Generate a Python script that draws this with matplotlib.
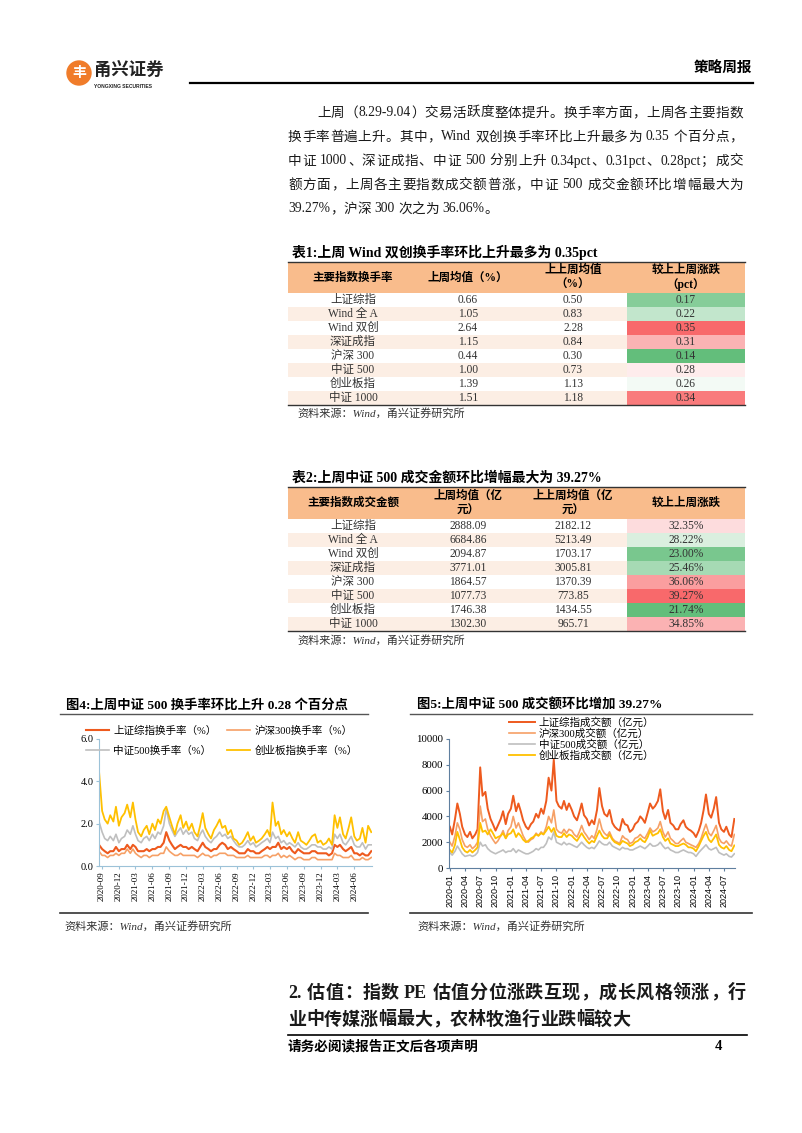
import re
import numpy as np
import pandas as pd
import matplotlib
matplotlib.use('Agg')
import matplotlib.pyplot as plt
from matplotlib.patches import Rectangle, Circle
from matplotlib.colors import LinearSegmentedColormap, TwoSlopeNorm

# ---- 数据 ----
para = [
    '上周（8.29-9.04）交易活跃度整体提升。换手率方面，上周各主要指数',
    '换手率普遍上升。其中，Wind 双创换手率环比上升最多为 0.35 个百分点，',
    '中证 1000、深证成指、中证 500 分别上升 0.34pct、0.31pct、0.28pct；成交',
    '额方面，上周各主要指数成交额普涨，中证 500 成交金额环比增幅最大为',
    '39.27%，沪深 300 次之为 36.06%。',
]

idx_names = ['上证综指', 'Wind 全 A', 'Wind 双创', '深证成指', '沪深 300', '中证 500', '创业板指', '中证 1000']
turn_last = [0.66, 1.05, 2.64, 1.15, 0.44, 1.00, 1.39, 1.51]
turn_prev = [0.50, 0.83, 2.28, 0.84, 0.30, 0.73, 1.13, 1.18]
turn_chg = [0.17, 0.22, 0.35, 0.31, 0.14, 0.28, 0.26, 0.34]

amt_last = [2888.09, 6684.86, 2094.87, 3771.01, 1864.57, 1077.73, 1746.38, 1302.30]
amt_prev = [2182.12, 5213.49, 1703.17, 3005.81, 1370.39, 773.85, 1434.55, 965.71]
amt_chg = [32.35, 28.22, 23.00, 25.46, 36.06, 39.27, 21.74, 34.85]

# 图4 换手率(%)，半月采样
dates4 = pd.date_range('2020-08-15', periods=98, freq='SMS')
to_sh = [1.0, 0.8, 0.7, 0.6, 0.7, 0.7, 0.9, 0.7, 0.8,
         0.8, 1.0, 0.8, 1.0, 0.9, 0.7, 0.7, 0.7, 0.8, 0.7, 0.8, 0.8,
         0.9, 0.9, 1.1, 1.6, 1.2, 1.0, 0.8, 0.9, 1.0, 0.9, 0.9, 0.8,
         0.9, 0.8, 0.7, 0.9, 1.1, 0.9, 0.8, 0.7, 0.8, 0.8, 1.0, 1.1,
         1.0, 0.8, 0.9, 0.8, 0.7, 0.6, 0.6, 0.6, 0.8, 0.7, 0.7, 0.6,
         0.6, 0.7, 0.8, 0.9, 0.8, 0.9, 0.9, 1.1, 0.8, 0.9, 0.8, 0.9,
         0.7, 0.6, 0.8, 0.7, 0.6, 0.6, 0.6, 0.7, 0.7, 0.6, 0.6, 0.6,
         0.6, 0.5, 0.6, 1.0, 0.9, 1.0, 0.8, 0.7, 0.8, 0.9, 0.6, 0.6,
         0.5, 0.6, 0.5, 0.5, 0.7]
to_hs300 = [0.7, 0.5, 0.5, 0.4, 0.5, 0.5, 0.6, 0.5, 0.6,
            0.6, 0.8, 0.6, 0.8, 0.6, 0.5, 0.4, 0.5, 0.5, 0.4, 0.5, 0.5,
            0.5, 0.6, 0.6, 0.9, 0.7, 0.6, 0.5, 0.5, 0.6, 0.5, 0.5, 0.5,
            0.5, 0.5, 0.4, 0.5, 0.6, 0.5, 0.5, 0.4, 0.5, 0.5, 0.6, 0.6,
            0.6, 0.5, 0.5, 0.5, 0.4, 0.4, 0.4, 0.4, 0.5, 0.4, 0.4, 0.4,
            0.4, 0.4, 0.5, 0.5, 0.4, 0.5, 0.5, 0.6, 0.4, 0.5, 0.4, 0.5,
            0.4, 0.3, 0.4, 0.4, 0.3, 0.3, 0.3, 0.4, 0.4, 0.3, 0.3, 0.3,
            0.3, 0.3, 0.3, 0.6, 0.5, 0.5, 0.4, 0.4, 0.4, 0.5, 0.3, 0.3,
            0.3, 0.4, 0.3, 0.3, 0.4]
to_zz500 = [2.1, 1.6, 1.3, 1.2, 1.4, 1.2, 1.5, 1.1, 1.3,
            1.4, 1.7, 1.5, 1.9, 1.5, 1.2, 1.1, 1.3, 1.4, 1.2, 1.5, 1.3,
            1.6, 1.5, 1.9, 2.7, 2.0, 1.7, 1.4, 1.6, 1.8, 1.5, 1.7, 1.5,
            1.6, 1.3, 1.2, 1.5, 1.7, 1.4, 1.2, 1.1, 1.3, 1.4, 1.6, 1.4,
            1.5, 1.3, 1.4, 1.2, 1.0, 0.9, 0.9, 1.0, 1.2, 1.0, 1.1, 0.9,
            1.0, 1.1, 1.2, 1.3, 1.1, 1.6, 1.3, 1.4, 1.1, 1.2, 1.0, 1.1,
            1.0, 0.9, 1.1, 0.9, 0.8, 0.8, 0.9, 1.0, 1.0, 0.9, 0.9, 0.8,
            0.8, 0.9, 0.8, 1.5, 1.3, 1.5, 1.1, 1.0, 1.2, 1.4, 1.0, 0.9,
            0.9, 1.1, 0.8, 1.0, 1.0]
to_cyb = [4.5, 2.6, 2.2, 2.0, 2.4, 2.1, 2.8, 1.9, 2.3,
          2.5, 2.9, 2.3, 3.0, 2.2, 1.6, 1.4, 1.7, 1.9, 1.5, 2.0, 1.7,
          2.2, 2.0, 2.6, 2.8, 2.3, 1.9, 1.5, 2.0, 2.4, 1.8, 2.1, 1.7,
          2.0, 1.6, 1.4, 1.9, 2.5, 1.8, 1.5, 1.3, 1.7, 1.9, 2.2, 1.8,
          1.9, 1.5, 1.7, 1.3, 1.2, 1.0, 1.1, 1.3, 1.6, 1.2, 1.4, 1.1,
          1.2, 1.3, 1.5, 1.7, 1.4, 3.0, 1.9, 2.1, 1.5, 1.7, 1.4, 1.6,
          1.3, 1.1, 1.6, 1.2, 1.1, 1.0, 1.2, 1.4, 1.5, 1.1, 1.2, 1.0,
          1.1, 1.3, 1.0, 2.4, 1.8, 2.3, 1.5, 1.3, 1.8, 2.3, 1.4, 1.2,
          1.3, 1.8, 1.1, 1.9, 1.6]
labels4 = ['上证综指换手率（%）', '沪深300换手率（%）', '中证500换手率（%）', '创业板指换手率（%）']

# 图5 成交额(亿元)，半月采样
dates5 = pd.date_range('2020-01-01', periods=113, freq='SMS')
amt_sh = [3200, 2600, 3800, 5000, 4200, 3200, 2600, 2400, 2800, 2300, 2600, 3000,
          7800, 5600, 5900, 4600, 3800, 3400, 2900, 3300, 3800, 4400, 3400, 4200,
          4600, 5600, 4400, 5000, 4400, 3700, 3200, 3000, 3400, 3600, 4200, 3900,
          4600, 4200, 5200, 7000, 6000, 8400, 5200, 4800, 4600, 5200, 4500, 5000,
          4500, 4000, 3700, 4300, 5000, 4100, 3800, 3300, 3700, 3400, 4500, 6200,
          4800, 4200, 4000, 4500, 3500, 3200, 3000, 2900, 3800, 3400, 3300, 2800,
          3000, 3400, 3600, 4000, 3800, 3500, 4300, 5000, 4600, 4800, 5200, 6100,
          4400, 3800, 4500, 3500, 3300, 3000, 3000, 3400, 3700, 3200, 3000, 2900,
          2700, 2400, 2900, 3500, 4500, 5700, 4200, 3900, 4600, 5500, 3500, 3000,
          2800, 3200, 2600, 2400, 3800]
amt_hs300 = [2000, 1700, 2500, 3500, 3000, 2200, 1700, 1600, 1800, 1500, 1700, 2000,
             4800, 3600, 3800, 3000, 2500, 2200, 1900, 2100, 2500, 2900, 2300, 2900,
             3200, 4000, 3100, 3500, 3000, 2500, 2100, 2000, 2200, 2300, 2700, 2500,
             2800, 2600, 3200, 4000, 3500, 4500, 3000, 2800, 2700, 3000, 2700, 3000,
             2900, 2600, 2400, 2800, 3300, 2800, 2500, 2200, 2500, 2300, 3000, 3800,
             3000, 2700, 2500, 2800, 2300, 2100, 2000, 1900, 2500, 2300, 2200, 1900,
             2000, 2300, 2400, 2600, 2400, 2300, 2700, 3100, 2800, 2900, 3100, 3600,
             2800, 2400, 2800, 2300, 2100, 1900, 1900, 2100, 2300, 2000, 1900, 1800,
             1700, 1600, 1900, 2300, 2900, 3400, 2700, 2500, 2900, 3300, 2300, 2000,
             1900, 2100, 1800, 1700, 2600]
amt_zz500 = [1200, 1000, 1300, 1700, 1400, 1100, 900, 950, 1000, 900, 1000, 1200,
             2000, 1700, 1800, 1500, 1300, 1200, 1100, 1200, 1300, 1400, 1200, 1300,
             1300, 1500, 1200, 1400, 1300, 1200, 1100, 1100, 1200, 1300, 1500, 1400,
             1600, 1600, 1900, 2400, 2200, 2800, 2000, 1900, 1800, 2000, 1800, 1900,
             1800, 1700, 1600, 1800, 2000, 1800, 1600, 1500, 1600, 1500, 1800, 2100,
             1900, 1800, 1800, 2000, 1700, 1600, 1500, 1400, 1600, 1500, 1500, 1400,
             1400, 1500, 1600, 1700, 1600, 1500, 1700, 1900, 1700, 1700, 1800, 2000,
             1700, 1500, 1600, 1400, 1300, 1200, 1200, 1300, 1400, 1300, 1200, 1200,
             1100, 900, 1200, 1400, 1600, 1800, 1500, 1400, 1500, 1600, 1200, 1100,
             1000, 1100, 900, 850, 1100]
amt_cyb = [1400, 1200, 1800, 2800, 2200, 1600, 1300, 1200, 1400, 1200, 1400, 1600,
           3500, 2800, 2900, 2600, 3000, 2700, 2300, 2400, 2500, 2700, 2300, 2600,
           2700, 3000, 2400, 2700, 2500, 2200, 2000, 2100, 2300, 2400, 2600, 2500,
           2700, 2600, 2900, 3200, 2800, 3100, 2500, 2400, 2400, 2700, 2400, 2600,
           2500, 2300, 2100, 2400, 2700, 2400, 2100, 1900, 2100, 2000, 2500, 2900,
           2500, 2300, 2300, 2600, 2200, 2000, 1900, 1800, 2100, 2000, 1900, 1700,
           1800, 2000, 2100, 2300, 2100, 2000, 2400, 2900, 2500, 2600, 2700, 3000,
           2400, 2100, 2300, 1900, 1800, 1700, 1700, 1800, 1900, 1800, 1600, 1600,
           1500, 1300, 1700, 2100, 2500, 2800, 2200, 2000, 2300, 2600, 1800, 1600,
           1500, 1700, 1400, 1300, 1750]
labels5 = ['上证综指成交额（亿元）', '沪深300成交额（亿元）', '中证500成交额（亿元）', '创业板指成交额（亿元）']

colors = ['#EE5A1E', '#F6A066', '#BFBFBF', '#FFC000']

# ---- 画布 ----
SERIF = ['Liberation Serif', 'Noto Sans CJK SC']
plt.rcParams['font.family'] = SERIF
W, H = 802, 1133
fig = plt.figure(figsize=(W / 100, H / 100), dpi=100)
bg = fig.add_axes([0, 0, 1, 1])
bg.set_xlim(0, W)
bg.set_ylim(H, 0)
bg.axis('off')
renderer = fig.canvas.get_renderer()


def tw(s, size, weight='normal'):
    t = bg.text(0, 0, s, fontsize=size, fontweight=weight)
    w = t.get_window_extent(renderer).width
    t.remove()
    return w


def line_text(s, x0, x1, y, size, weight='normal', justify=True, color='#1a1a1a'):
    toks = re.findall(r'[A-Za-z0-9.\-%]+| |[^A-Za-z0-9.\-% ]', s)
    ws = [size * 100 / 72 * 0.25 if t == ' ' else tw(t, size, weight) for t in toks]
    gap = (x1 - x0 - sum(ws)) / (len(toks) - 1) if justify else 0
    x = x0
    for t, w in zip(toks, ws):
        if t != ' ':
            bg.text(x, y, t, fontsize=size, fontweight=weight, color=color, ha='left', va='center')
        x += w + gap


# 页眉
bg.add_patch(Circle((79, 73), 12, color='#F07C2A'))
bg.text(79, 73.5, '丰', color='white', fontsize=10, fontweight='bold', ha='center', va='center')
bg.text(94, 70, '甬兴证券', fontsize=12.5, fontweight='bold', color='#222222', va='center')
bg.text(94, 86, 'YONGXING SECURITIES', fontsize=3.6, fontweight='bold', color='#222222',
        family='Liberation Sans', va='center')
bg.plot([190, 753], [83, 83], color='black', lw=1.6)
bg.text(752, 69, '策略周报', fontsize=10.5, fontweight='bold', ha='right', va='center')

# 正文
ys = [113, 137, 161, 185, 209]
for i, (s, y) in enumerate(zip(para, ys)):
    x0 = 317 if i == 0 else 288
    line_text(s, x0, 743, y, 9.8, justify=(i < len(para) - 1))

# 表格
cmap = LinearSegmentedColormap.from_list('gwr', ['#63BE7B', '#FFFFFF', '#F8696B'])
cx = [353, 468, 573, 686]
x0, x1, xc = 288, 745, 627


def draw_table(title, ty, top, hh, headers, col2, col3, chg, fmt, src_y):
    bg.text(292, ty, title, fontsize=10, fontweight='bold', va='center')
    bg.add_patch(Rectangle((x0, top), x1 - x0, hh, color='#F9BC8C', lw=0))
    bg.plot([x0, x1], [top, top], color='#333333', lw=1)
    for c, lines in zip(cx, headers):
        n = len(lines)
        for k, s in enumerate(lines):
            yy = top + hh / 2 + (k - (n - 1) / 2) * 15
            bg.text(c, yy, s, fontsize=8.3, fontweight='bold', ha='center', va='center')
    rh = 14.0
    norm = TwoSlopeNorm(vmin=min(chg), vcenter=float(np.median(chg)), vmax=max(chg))
    for i in range(len(idx_names)):
        y = top + hh + i * rh
        if i % 2 == 1:
            bg.add_patch(Rectangle((x0, y), xc - x0, rh, color='#FCEEE4', lw=0))
        bg.add_patch(Rectangle((xc, y), x1 - xc, rh, color=cmap(norm(chg[i])), lw=0))
        vals = [idx_names[i], f'{col2[i]:.2f}', f'{col3[i]:.2f}', fmt(chg[i])]
        for c, v in zip(cx, vals):
            bg.text(c, y + rh / 2, v, fontsize=8.3, color='#333333', ha='center', va='center')
    yb = top + hh + len(idx_names) * rh
    bg.plot([x0, x1], [yb, yb], color='#333333', lw=1)
    bg.text(297, src_y, '资料来源：Wind，甬兴证券研究所', fontsize=8, style='italic',
            color='#333333', va='center')


draw_table('表1:上周 Wind 双创换手率环比上升最多为 0.35pct', 252, 262, 31,
           [['主要指数换手率'], ['上周均值（%）'], ['上上周均值', '（%）'], ['较上上周涨跌', '（pct）']],
           turn_last, turn_prev, turn_chg, lambda v: f'{v:.2f}', 413)
draw_table('表2:上周中证 500 成交金额环比增幅最大为 39.27%', 478, 487, 32,
           [['主要指数成交金额'], ['上周均值（亿', '元）'], ['上上周均值（亿', '元）'], ['较上上周涨跌']],
           amt_last, amt_prev, amt_chg, lambda v: f'{v:.2f}%', 640)

# 图标题和框线
bg.text(66, 705, '图4:上周中证 500 换手率环比上升 0.28 个百分点', fontsize=9.6, fontweight='bold', va='center')
bg.text(417, 705, '图5:上周中证 500 成交额环比增加 39.27%', fontsize=9.6, fontweight='bold', va='center')
for a, b in [(60, 368), (410, 752)]:
    bg.plot([a, b], [714, 714], color='#555555', lw=1)
    bg.plot([a, b], [913, 913], color='#333333', lw=1.2)
bg.text(64, 926, '资料来源：Wind，甬兴证券研究所', fontsize=8, style='italic', color='#333333', va='center')
bg.text(417, 926, '资料来源：Wind，甬兴证券研究所', fontsize=8, style='italic', color='#333333', va='center')

# 图4
ax4 = fig.add_axes([99 / W, 1 - 866 / H, 273 / W, 127 / H])
h4 = []
for vals, c, lab, lw in zip([to_sh, to_hs300, to_zz500, to_cyb], colors, labels4, [1.5, 1.2, 1.2, 1.3]):
    h4 += ax4.plot(dates4, vals, color=c, lw=lw, label=lab)
ax4.set_ylim(0, 6)
ax4.set_yticks([0, 2, 4, 6])
ax4.set_yticklabels(['0.0', '2.0', '4.0', '6.0'], fontsize=7.5)
ax4.set_xlim(pd.Timestamp('2020-08-15'), pd.Timestamp('2024-09-05'))
t4 = pd.date_range('2020-09-01', '2024-06-01', freq='3MS')
ax4.set_xticks(t4)
ax4.set_xticklabels([d.strftime('%Y-%m') for d in t4], rotation=90, fontsize=6.5)
ax4.legend([h4[0], h4[2], h4[1], h4[3]], [labels4[0], labels4[2], labels4[1], labels4[3]],
           loc='upper left', bbox_to_anchor=(86 / W, 1 - 726 / H), bbox_transform=fig.transFigure,
           ncol=2, frameon=False, fontsize=7.6, handlelength=2.2, handletextpad=0.4,
           columnspacing=1.0, labelspacing=0.9, borderpad=0, borderaxespad=0)

# 图5
ax5 = fig.add_axes([449 / W, 1 - 868 / H, 286 / W, 129 / H])
h5 = []
for vals, c, lab, lw in zip([amt_sh, amt_hs300, amt_zz500, amt_cyb], colors, labels5, [1.4, 1.2, 1.2, 1.3]):
    h5 += ax5.plot(dates5, vals, color=c, lw=lw, label=lab)
ax5.set_ylim(0, 10000)
ax5.set_yticks(range(0, 10001, 2000))
ax5.tick_params(axis='y', labelsize=7.8)
ax5.set_xlim(pd.Timestamp('2019-12-27'), pd.Timestamp('2024-09-05'))
t5 = pd.date_range('2020-01-01', '2024-07-01', freq='3MS')
ax5.set_xticks(t5)
ax5.set_xticklabels([d.strftime('%Y-%m') for d in t5], rotation=90, fontsize=6.5, family='Liberation Sans')
ax5.legend(loc='upper left', bbox_to_anchor=(509 / W, 1 - 717 / H), bbox_transform=fig.transFigure,
           frameon=False, fontsize=7.6, handlelength=2.5, handletextpad=0.3,
           labelspacing=0.05, borderpad=0, borderaxespad=0)

for ax, sc in [(ax4, '#9CC2D8'), (ax5, '#5F7F9F')]:
    ax.patch.set_alpha(0)
    for s in ['top', 'right']:
        ax.spines[s].set_visible(False)
    ax.spines['left'].set_color(sc)
    ax.spines['bottom'].set_color(sc)
    ax.tick_params(length=2, width=0.8, color=sc, pad=2)

# 小节标题与页脚
line_text('2. 估值：指数 PE 估值分位涨跌互现，成长风格领涨，行', 288, 746, 993, 13.0, weight='bold')
line_text('业中传媒涨幅最大，农林牧渔行业跌幅较大', 288, 746, 1020, 13.0, weight='bold', justify=False)
bg.plot([288, 747], [1035, 1035], color='black', lw=1.2)
bg.text(288, 1047, '请务必阅读报告正文后各项声明', fontsize=9.8, fontweight='bold', va='center')
bg.text(718, 1047, '4', fontsize=10.5, fontweight='bold', ha='center', va='center')

fig.savefig('out.png', dpi=100)
